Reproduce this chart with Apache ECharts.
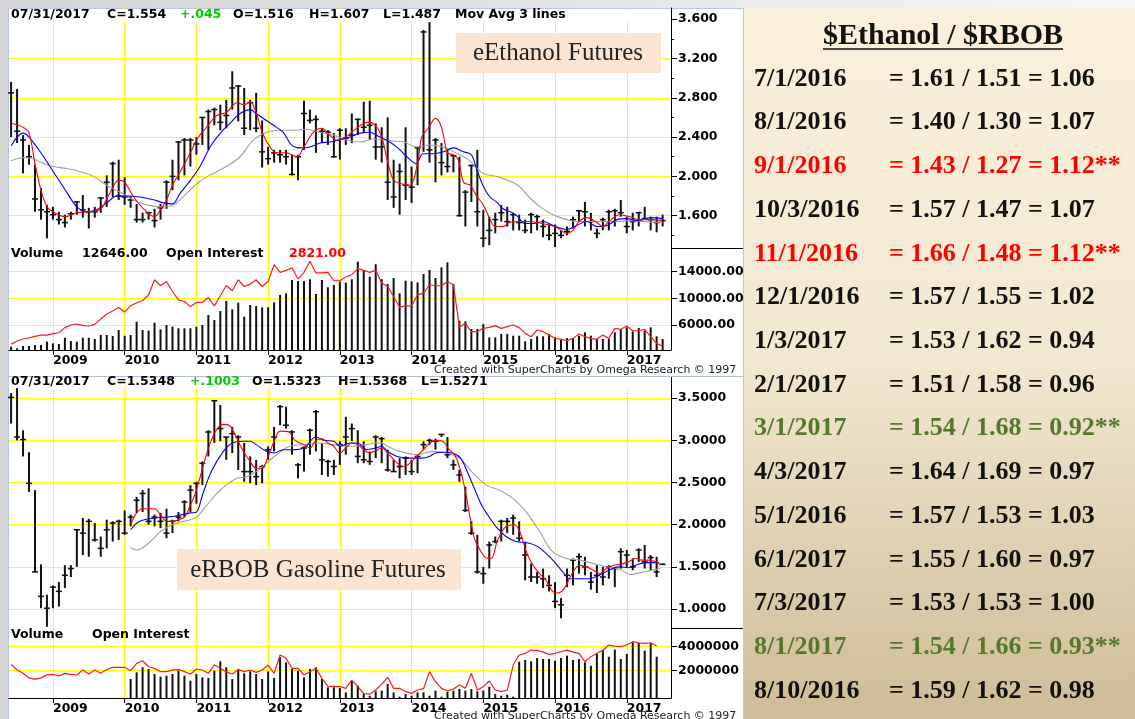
<!DOCTYPE html>
<html>
<head>
<meta charset="utf-8">
<title>eEthanol / eRBOB</title>
<script src="https://cdn.jsdelivr.net/npm/echarts@6/dist/echarts.min.js"></script>
<style>
html,body{margin:0;padding:0;background:#fff;}
#main{width:1135px;height:719px;}
</style>
</head>
<body>
<div id="main"></div>
<script>
//month index: 0 = Jun 2008 ... 109 = Jul 2017
var yearTicks = [7, 19, 31, 43, 55, 67, 79, 91, 103];
var yearLabels = ['2009', '2010', '2011', '2012', '2013', '2014', '2015', '2016', '2017'];

var ethTicks = [1.6, 2.0, 2.4, 2.8, 3.2, 3.6];
var ethMinorTicks = [1.4, 1.8, 2.2, 2.6, 3.0, 3.4];
var ethOiTicks = [6000, 10000, 14000];
var rbTicks = [1.0, 1.5, 2.0, 2.5, 3.0, 3.5];
var rbOiTicks = [2000000, 4000000];

//eEthanol monthly bars
var ethHigh = [
2.96,2.89,2.42,2.32,2.12,1.88,1.71,1.69,1.64,1.61,
1.64,1.75,1.81,1.68,1.69,1.79,2.01,2.15,2.17,1.99,
1.80,1.72,1.63,1.64,1.67,1.72,1.96,2.17,2.36,2.39,
2.39,2.40,2.60,2.68,2.70,2.73,2.78,3.07,2.93,2.90,
2.78,2.85,2.57,2.30,2.27,2.27,2.27,2.22,2.22,2.77,
2.68,2.62,2.49,2.47,2.44,2.49,2.49,2.64,2.59,2.76,
2.77,2.54,2.50,2.60,2.17,2.13,2.50,2.10,2.30,3.49,
3.57,2.39,2.34,2.27,2.22,2.20,1.86,2.12,2.27,1.66,
1.59,1.63,1.71,1.69,1.63,1.61,1.56,1.63,1.61,1.56,
1.51,1.51,1.45,1.49,1.59,1.66,1.74,1.63,1.47,1.58,
1.66,1.67,1.76,1.59,1.63,1.64,1.69,1.59,1.59,1.61];
var ethLow = [
2.40,2.34,2.03,2.12,1.64,1.56,1.37,1.56,1.51,1.48,
1.56,1.61,1.58,1.47,1.58,1.63,1.69,1.79,1.76,1.71,
1.68,1.53,1.53,1.56,1.48,1.56,1.67,1.86,1.96,2.01,
2.10,2.22,2.32,2.27,2.52,2.47,2.49,2.68,2.56,2.42,
2.47,2.45,2.09,2.12,2.14,2.14,2.12,2.01,1.96,2.27,
2.54,2.24,2.34,2.32,2.19,2.17,2.32,2.34,2.42,2.44,
2.37,2.17,2.14,1.76,1.68,1.61,1.76,1.73,1.91,2.25,
2.14,1.94,2.01,2.04,2.04,1.59,1.49,1.74,1.49,1.28,
1.30,1.42,1.54,1.49,1.45,1.45,1.42,1.42,1.45,1.38,
1.35,1.28,1.37,1.40,1.47,1.54,1.49,1.45,1.37,1.45,
1.45,1.49,1.59,1.42,1.45,1.49,1.56,1.45,1.43,1.49];
var ethClose = [
2.85,2.46,2.37,2.20,1.77,1.66,1.64,1.61,1.56,1.53,
1.62,1.74,1.66,1.64,1.64,1.78,1.94,2.13,1.80,1.79,
1.76,1.56,1.56,1.63,1.55,1.68,1.94,2.00,2.35,2.37,
2.37,2.33,2.60,2.66,2.68,2.55,2.62,2.90,2.92,2.49,
2.75,2.49,2.25,2.18,2.24,2.22,2.20,2.02,2.20,2.64,
2.57,2.58,2.46,2.45,2.20,2.47,2.39,2.42,2.58,2.50,
2.52,2.30,2.30,1.94,1.79,2.05,1.91,1.89,2.29,3.47,
2.27,2.37,2.14,2.10,2.21,1.60,1.84,2.11,1.64,1.37,
1.45,1.56,1.63,1.54,1.61,1.53,1.45,1.61,1.59,1.49,
1.40,1.42,1.40,1.44,1.56,1.65,1.64,1.54,1.42,1.56,
1.64,1.65,1.63,1.49,1.54,1.63,1.57,1.56,1.53,1.55];

//eEthanol moving averages [month, value]
var ethMaFast = [[0,2.54],[2,2.50],[3,2.44],[4,2.13],[5,1.86],[6,1.69],[7,1.64],[9,1.59],[11,1.63],[13,1.64],[15,1.67],[16.5,1.83],[18,1.96],[19,1.94],[20.5,1.79],[22,1.68],[24,1.59],[25,1.66],[26,1.76],[27,1.91],[28.5,2.07],[30,2.24],[31,2.37],[32.7,2.50],[34.4,2.62],[36,2.65],[37.8,2.75],[39,2.73],[40,2.76],[41,2.65],[42,2.45],[43.3,2.30],[44.4,2.24],[46,2.24],[47.8,2.20],[49,2.30],[50.6,2.45],[52,2.49],[53.3,2.42],[54.5,2.37],[56,2.40],[57,2.45],[59,2.54],[60,2.55],[61.7,2.45],[63,2.15],[64,1.96],[65.6,1.92],[66.7,1.91],[68,2.13],[68.7,2.40],[69.8,2.49],[71,2.59],[72,2.50],[73,2.24],[74,2.22],[74.8,2.17],[75.7,1.94],[76.8,1.91],[78,1.79],[79,1.71],[80,1.58],[81,1.49],[82.3,1.49],[83.4,1.53],[85,1.54],[86.8,1.54],[88,1.53],[89.6,1.51],[91.3,1.48],[93,1.42],[94,1.45],[95,1.54],[96.3,1.58],[98,1.53],[99,1.49],[100,1.54],[101.8,1.61],[103.5,1.59],[105,1.56],[106.9,1.56],[109,1.55]];
var ethMaMid = [[0,2.31],[2,2.44],[3,2.40],[5,2.24],[6.5,2.10],[8,1.96],[9.3,1.84],[11,1.69],[12.7,1.64],[14.3,1.66],[16,1.73],[17.7,1.80],[19.3,1.80],[21.6,1.79],[24,1.76],[25.5,1.73],[27,1.72],[28.3,1.83],[30,1.96],[31.6,2.10],[33.3,2.30],[35,2.44],[36.6,2.54],[38.3,2.64],[40,2.68],[41,2.64],[42.2,2.59],[43.9,2.52],[45.5,2.45],[46.9,2.32],[48.3,2.29],[50,2.30],[51.7,2.34],[53.3,2.35],[55,2.37],[56.7,2.40],[58.4,2.44],[60,2.45],[61.7,2.40],[62.8,2.37],[64.5,2.30],[66.2,2.20],[67.8,2.13],[68.9,2.23],[70.6,2.23],[72.3,2.25],[74,2.29],[75.7,2.25],[77,2.22],[77.9,2.07],[79,1.90],[80.1,1.79],[81.2,1.74],[82.3,1.67],[83.5,1.64],[84.6,1.60],[86,1.52],[87.4,1.52],[89,1.54],[90.7,1.50],[93,1.46],[94.6,1.50],[96.3,1.54],[98,1.49],[99.7,1.50],[101.4,1.56],[103,1.57],[104.8,1.55],[107,1.58],[109,1.57]];
var ethMaSlow = [[0,2.16],[2,2.19],[3.7,2.18],[5.4,2.13],[7,2.10],[9.3,2.08],[11.5,2.05],[13.8,2.00],[16,1.91],[18.2,1.84],[20.5,1.76],[22.7,1.71],[24.9,1.69],[27.2,1.71],[29.4,1.83],[31.6,1.95],[33.8,2.03],[36,2.10],[38.3,2.20],[40.5,2.37],[42.8,2.45],[45,2.47],[47.2,2.47],[49.5,2.48],[51.7,2.45],[54,2.42],[56.1,2.37],[58.4,2.35],[60.6,2.38],[64,2.36],[65.7,2.35],[67.8,2.30],[70,2.32],[72.3,2.30],[74.4,2.24],[76.5,2.17],[79,2.03],[81.2,2.00],[83.5,1.95],[85,1.90],[86.8,1.78],[88.5,1.69],[90.7,1.61],[93,1.56],[94.6,1.54],[96.9,1.54],[99.1,1.54],[101.4,1.54],[103.6,1.55],[105.8,1.54],[109,1.53]];

var ethVolume = [
3800,1900,4600,4600,5700,5700,9600,7600,6900,14100,
10300,9600,14100,14100,12600,17200,17200,16100,22900,16400,
17200,32500,22900,22200,31400,23700,28700,26800,24900,24900,
24900,26800,28700,40100,34400,44700,56200,46600,54300,38200,
51600,50500,48900,48900,54700,63100,65000,80300,79100,79100,
81100,64200,80300,71900,74600,78400,77200,81100,101300,91800,
84100,98300,81400,75700,82600,65000,79500,78800,77600,87200,
91800,82600,94800,100600,75700,33600,32900,24100,24100,29800,
14500,14500,18400,18400,16400,16400,9900,12600,15700,15700,
18400,14500,11500,13800,13800,16400,20300,16400,12600,12600,
12600,20300,24100,26000,21400,25200,22200,26000,15700,12646];
var ethOpenInt = [
3130,3600,3900,4080,4300,4490,4490,4700,4840,5600,
6000,6150,5950,5850,6100,6900,7660,8100,8620,7920,
8900,9300,9670,10500,12790,11890,12530,11030,9770,9520,
8760,9370,9420,10120,8870,10380,11930,11130,12790,11780,
12140,12790,11780,12530,15050,13900,14200,14560,12900,13900,
15560,13810,13810,13900,12640,12640,13200,13550,14450,14200,
13900,14200,12290,11780,10270,8670,8870,8870,10530,10780,
12040,11890,11890,12530,12040,5650,6250,5000,5000,5500,
5650,5900,5500,5750,6000,5600,4740,4240,5250,5000,
4490,3990,3890,3630,3990,4640,4240,3990,3890,4490,
3990,5500,5350,5850,5140,5140,5350,4240,3240,2821];

//eRBOB monthly bars
var rbHigh = [
3.56,3.62,3.12,2.86,2.41,1.53,1.17,1.28,1.32,1.52,
1.52,1.95,2.08,2.07,2.02,1.86,2.06,2.04,2.06,2.17,
2.12,2.33,2.41,2.43,2.12,2.14,2.19,2.06,2.15,2.29,
2.47,2.51,2.75,3.12,3.48,3.42,3.04,3.16,3.06,2.97,
2.81,2.77,2.71,2.93,3.16,3.42,3.40,3.12,2.73,2.93,
3.14,3.36,2.97,2.77,2.77,2.99,3.28,3.20,3.12,2.99,
2.87,3.06,3.04,2.89,2.77,2.79,2.81,2.77,2.83,2.99,
3.02,3.02,3.08,3.04,2.77,2.65,2.45,2.04,1.88,1.50,
1.80,1.86,2.06,2.08,2.12,2.04,1.80,1.54,1.44,1.48,
1.40,1.32,1.13,1.48,1.60,1.66,1.62,1.44,1.52,1.50,
1.52,1.50,1.72,1.70,1.60,1.72,1.76,1.64,1.62,1.54];
var rbLow = [
3.20,3.00,2.81,2.39,1.44,1.01,0.79,1.01,1.03,1.25,
1.38,1.50,1.64,1.62,1.80,1.62,1.72,1.80,1.82,1.88,
1.98,2.14,2.15,2.00,1.98,1.96,1.84,1.90,2.04,2.09,
2.15,2.25,2.47,2.81,2.97,2.99,2.77,2.85,2.65,2.51,
2.49,2.47,2.49,2.77,2.87,3.18,3.14,2.83,2.55,2.63,
2.83,2.87,2.59,2.57,2.59,2.71,2.83,2.99,2.73,2.73,
2.71,2.79,2.73,2.63,2.63,2.55,2.59,2.59,2.61,2.89,
2.95,2.89,3.04,2.79,2.65,2.51,2.15,1.88,1.42,1.30,
1.48,1.78,1.80,1.90,1.88,1.80,1.34,1.32,1.30,1.25,
1.21,1.01,0.89,1.26,1.28,1.42,1.40,1.23,1.19,1.28,
1.36,1.26,1.48,1.50,1.46,1.56,1.48,1.46,1.38,1.53];
var rbClose = [
3.51,3.04,3.01,2.49,1.44,1.15,1.01,1.26,1.21,1.40,
1.48,1.94,1.90,2.04,1.82,1.72,1.94,2.02,2.04,1.90,
2.09,2.29,2.37,2.04,2.09,2.04,1.90,2.04,2.09,2.27,
2.41,2.49,2.73,3.10,3.47,3.14,3.04,3.08,3.04,2.63,
2.63,2.57,2.69,2.89,3.04,3.40,3.18,3.10,2.71,2.91,
3.12,3.34,2.77,2.75,2.69,2.95,3.04,3.14,2.81,2.77,
2.75,3.04,3.02,2.65,2.63,2.69,2.79,2.63,2.81,2.95,
3.00,2.99,3.07,2.83,2.71,2.59,2.17,1.90,1.44,1.42,
1.76,1.80,2.04,2.04,2.08,1.84,1.64,1.38,1.38,1.36,
1.28,1.09,1.05,1.40,1.58,1.62,1.50,1.32,1.40,1.38,
1.50,1.48,1.68,1.64,1.50,1.70,1.56,1.61,1.44,1.53];

//eRBOB moving averages [month, value]
var rbMaFast = [[20,2.00],[21,2.14],[22,2.19],[24,2.19],[25,2.12],[26,2.04],[27,2.04],[28,2.06],[29,2.09],[30,2.23],[31,2.41],[32.5,2.79],[33.5,3.00],[34.5,3.14],[35.5,3.19],[36.5,3.18],[37.5,3.06],[38.7,2.89],[39.8,2.77],[41,2.67],[42,2.67],[43,2.81],[44,2.99],[45,3.11],[46.5,3.10],[47.5,3.00],[49,2.95],[50,2.91],[51,3.00],[52,3.02],[53,2.97],[54,2.93],[55,2.85],[56,2.91],[57,2.97],[58,2.95],[59,2.89],[60,2.85],[61,2.88],[62,2.91],[63,2.85],[64.6,2.73],[65.7,2.69],[67.3,2.77],[68.7,2.87],[69.8,2.95],[71,3.00],[72.2,2.99],[73.3,2.89],[74.2,2.83],[75,2.69],[75.9,2.43],[76.7,2.12],[77.5,1.84],[78.3,1.72],[79.4,1.61],[80.3,1.60],[81.4,1.82],[82.8,1.98],[84.2,2.00],[85.3,1.88],[86.2,1.68],[87.3,1.52],[88.4,1.42],[89.5,1.34],[90.6,1.21],[91.5,1.19],[92.6,1.25],[93.7,1.40],[95.1,1.52],[96.3,1.50],[97.4,1.46],[98.5,1.42],[99.6,1.48],[100.8,1.52],[101.9,1.53],[103.3,1.56],[104.4,1.60],[105.5,1.58],[106.7,1.58],[107.8,1.56],[108.6,1.53]];
var rbMaMid = [[20,1.94],[21.5,2.04],[24,2.08],[26,2.09],[28,2.11],[30,2.14],[31,2.15],[32,2.35],[33.5,2.63],[35.5,2.87],[37,2.97],[38.8,2.99],[40,2.99],[41,2.95],[42.7,2.87],[44,2.85],[45.5,2.89],[47,2.89],[49,2.91],[51,3.04],[52.4,3.00],[54,2.99],[55,2.93],[56.7,2.97],[58,2.97],[59.5,2.89],[61,2.91],[62,2.93],[63,2.87],[64.6,2.81],[66.8,2.79],[68.7,2.79],[70,2.81],[71,2.85],[72.2,2.86],[73.8,2.85],[75.2,2.79],[76.3,2.63],[77.5,2.43],[78.6,2.25],[79.7,2.12],[81.1,1.98],[82.8,1.86],[84.5,1.80],[86.7,1.78],[88.1,1.74],[89.5,1.66],[90.9,1.56],[92.3,1.44],[93.4,1.36],[95.1,1.36],[96.7,1.36],[98.4,1.40],[100,1.46],[101.7,1.50],[103.4,1.49],[104.5,1.52],[106.2,1.55],[108.4,1.55]];
var rbMaSlow = [[20,1.73],[21,1.70],[23,1.78],[25,1.92],[27,2.00],[29,2.04],[31,2.09],[32.7,2.23],[34.4,2.37],[36,2.47],[37.8,2.55],[39.4,2.57],[41,2.63],[42.7,2.73],[44.4,2.83],[46.6,2.93],[49,2.95],[51,2.97],[54,2.95],[56.7,2.93],[59.5,2.95],[61,2.97],[62,2.97],[63,2.93],[65,2.87],[68,2.83],[70.5,2.87],[72.8,2.85],[75,2.79],[77.3,2.61],[79.5,2.47],[81.7,2.41],[84,2.31],[86.2,2.15],[88.4,1.92],[90.6,1.68],[92.9,1.60],[95.1,1.58],[97.4,1.54],[99.6,1.50],[101.9,1.47],[103.5,1.41],[105.8,1.44],[108.6,1.48]];

var rbVolume = [
null,null,null,null,null,null,null,null,null,null,
null,null,null,null,null,null,null,null,null,null,
1580000,2140000,2560000,2420000,2000000,1780000,1860000,2000000,2280000,1860000,
1440000,2000000,1720000,1670000,2280000,3060000,2560000,1580000,2420000,2060000,
2220000,2000000,1580000,2220000,1670000,3390000,2970000,2420000,2280000,1720000,
2420000,2560000,1580000,890000,890000,830000,470000,1440000,1030000,330000,
190000,560000,610000,1170000,470000,110000,330000,190000,470000,470000,
190000,610000,110000,530000,610000,750000,610000,750000,560000,610000,
940000,330000,190000,280000,110000,3030000,3170000,3060000,3330000,3250000,
3250000,3110000,3330000,3530000,3170000,3250000,2970000,2690000,3670000,4000000,
3440000,4030000,3250000,3670000,4640000,4580000,3940000,4560000,3440000,null];
var rbOpenInt = [
2530000,2060000,1780000,1400000,1300000,1400000,1650000,1700000,1560000,1780000,
1700000,1640000,2060000,1720000,2060000,1780000,2100000,2280000,2280000,2280000,
2000000,2610000,2830000,2330000,2200000,1920000,1920000,2050000,2110000,1920000,
1700000,2140000,2060000,1780000,2470000,2200000,1900000,1720000,2110000,1920000,
2060000,1860000,2060000,2470000,1780000,3310000,3030000,2200000,2200000,1640000,
1920000,2200000,1360000,720000,700000,670000,530000,1220000,670000,100000,
50000,390000,860000,1450000,530000,530000,250000,110000,390000,500000,
1920000,1080000,530000,330000,470000,810000,530000,1780000,390000,670000,
1140000,390000,250000,390000,2470000,3310000,3450000,3720000,3700000,3550000,
3360000,3450000,3600000,3720000,3550000,3450000,2750000,3170000,3450000,3700000,
4140000,4050000,4000000,4140000,4420000,4330000,4280000,4330000,4060000,null];

//$Ethanol / $RBOB table
var tableDates = ['7/1/2016','8/1/2016','9/1/2016','10/3/2016','11/1/2016','12/1/2016','1/3/2017','2/1/2017','3/1/2017','4/3/2017','5/1/2016','6/1/2017','7/3/2017','8/1/2017','8/10/2016'];
var tableEth = ['1.61','1.40','1.43','1.57','1.66','1.57','1.53','1.51','1.54','1.64','1.57','1.55','1.53','1.54','1.59'];
var tableRbob = ['1.51','1.30','1.27','1.47','1.48','1.55','1.62','1.58','1.68','1.69','1.53','1.60','1.53','1.66','1.62'];
var tableRatio = ['1.06','1.07','1.12','1.07','1.12','1.02','0.94','0.96','0.92','0.97','1.03','0.97','1.00','0.93','0.98'];
var tableFlag = ['','','hi','','hi','','','','lo','','','','','lo',''];

var X_MIN = -0.35, X_MAX = 110.4;
var flagColor = {hi: '#ff0000', lo: '#55792a', '': '#111111'};
var axisFont = {fontFamily: 'DejaVu Sans', fontWeight: 'bold', fontSize: 12.5, color: '#000'};
var myChart = echarts.init(document.getElementById('main'));

function yearName(v)
{
	return yearLabels[yearTicks.indexOf(v)];
}

function hlcData(h, l, c)
{
	var out = [];
	for (var i = 0; i < h.length; i++) {
		out.push([i, h[i], l[i], c[i]]);
	}
	return out;
}

function indexed(arr)
{
	return arr.map(function (v, i) { return [i, v]; });
}

//one monthly bar: high-low stick with close ticks
function hlcItem(params, api)
{
	var x = api.value(0);
	var hi = api.coord([x, api.value(1)]);
	var lo = api.coord([x, api.value(2)]);
	var cl = api.coord([x, api.value(3)]);
	return {
		type: 'group',
		children: [
			{type: 'line', shape: {x1: hi[0], y1: hi[1], x2: lo[0], y2: lo[1]}, style: {stroke: '#111', lineWidth: 2}},
			{type: 'line', shape: {x1: cl[0] - 3, y1: cl[1], x2: cl[0] + 3, y2: cl[1]}, style: {stroke: '#111', lineWidth: 1.5}}
		]
	};
}

function xAxisFor(grid, withLabels, withSplit)
{
	return {
		gridIndex: grid, type: 'value', min: X_MIN, max: X_MAX,
		axisLine: {show: withLabels, onZero: false, lineStyle: {color: '#000', width: 1}},
		axisTick: {show: withLabels, length: 5, customValues: yearTicks, lineStyle: {color: '#000'}},
		axisLabel: Object.assign({show: withLabels, customValues: yearTicks, align: 'left', margin: 4, formatter: yearName}, axisFont),
		splitLine: {show: withSplit, lineStyle: {color: '#ffff00', width: 1}}
	};
}

function labelAxis(grid, min, max, ticks, fmt)
{
	return {
		gridIndex: grid, type: 'value', position: 'right', min: min, max: max,
		axisLine: {show: true, onZero: false, lineStyle: {color: '#000', width: 1}},
		axisTick: {show: true, length: 6, customValues: ticks, lineStyle: {color: '#000'}},
		axisLabel: Object.assign({customValues: ticks, margin: 7, formatter: fmt}, axisFont),
		splitLine: {show: true, lineStyle: {color: '#ffff00', width: 1}}
	};
}

//ticks only, on an overlaid grid so it sits on the right side too
function minorAxis(grid, min, max, ticks)
{
	return {
		gridIndex: grid, type: 'value', position: 'right', min: min, max: max,
		axisLine: {show: false, onZero: false},
		axisTick: {show: true, length: 3, customValues: ticks, lineStyle: {color: '#000'}},
		axisLabel: {show: false, customValues: ticks},
		splitLine: {show: false}
	};
}

function hiddenAxis(grid, max)
{
	return {gridIndex: grid, type: 'value', min: 0, max: max, show: false, axisLine: {onZero: false}, splitLine: {show: false}};
}

function maLine(x, y, data, color)
{
	return {type: 'line', xAxisIndex: x, yAxisIndex: y, data: data, smooth: 0.35, symbol: 'none',
		lineStyle: {color: color, width: 1.1}, z: 4, silent: true};
}

function txt(x, y, s, color, size, weight, family, align, z)
{
	return {type: 'text', x: x, y: y, z: z || 20, silent: true,
		style: {text: s, fill: color || '#000', fontSize: size || 12.5, fontWeight: weight || 'bold',
			fontFamily: family || 'DejaVu Sans', align: align || 'left', verticalAlign: 'middle'}};
}

function textWidth(s, font)
{
	var ctx = document.createElement('canvas').getContext('2d');
	ctx.font = font;
	return ctx.measureText(s).width;
}

//graphics: backgrounds, headers, boxes, table
var graphics = [
	{type: 'rect', z: -10, silent: true, shape: {x: 0, y: 0, width: 1135, height: 719},
		style: {fill: new echarts.graphic.LinearGradient(0, 0, 1, 0, [{offset: 0, color: '#d4d4d4'}, {offset: 1, color: '#f6f6f6'}])}},
	{type: 'rect', z: -9, silent: true, shape: {x: 8.5, y: 8.5, width: 735, height: 711}, style: {fill: '#fff', stroke: '#b7c7e6', lineWidth: 1}},
	{type: 'rect', z: 1, silent: true, shape: {x: 9, y: 9, width: 662, height: 12.5}, style: {fill: '#fff'}},
	{type: 'rect', z: 1, silent: true, shape: {x: 9, y: 377, width: 662, height: 11}, style: {fill: '#fff'}},
	{type: 'line', z: 1, silent: true, shape: {x1: 8, y1: 376.5, x2: 743, y2: 376.5}, style: {stroke: '#aebfe2', lineWidth: 1}},
	{type: 'line', z: 1, silent: true, shape: {x1: 671, y1: 248.5, x2: 743, y2: 248.5}, style: {stroke: '#000', lineWidth: 1}},
	{type: 'line', z: 1, silent: true, shape: {x1: 671, y1: 628.5, x2: 743, y2: 628.5}, style: {stroke: '#000', lineWidth: 1}},

	txt(11, 15, '07/31/2017'), txt(107, 15, 'C=1.554'), txt(180, 15, '+.045', '#00cc00'),
	txt(233, 15, 'O=1.516'), txt(309, 15, 'H=1.607'), txt(383, 15, 'L=1.487'), txt(455, 15, 'Mov Avg 3 lines'),
	txt(11, 254, 'Volume'), txt(82, 254, '12646.00'), txt(166, 254, 'Open Interest'), txt(289, 254, '2821.00', '#ff0000'),
	txt(434, 370, 'Created with SuperCharts by Omega Research \u00a9 1997', '#222', 11, 'normal'),

	txt(11, 382, '07/31/2017'), txt(107, 382, 'C=1.5348'), txt(190, 382, '+.1003', '#00cc00'),
	txt(252, 382, 'O=1.5323'), txt(338, 382, 'H=1.5368'), txt(421, 382, 'L=1.5271'),
	txt(11, 635, 'Volume'), txt(92, 635, 'Open Interest'),
	txt(434, 716, 'Created with SuperCharts by Omega Research \u00a9 1997', '#222', 11, 'normal'),

	{type: 'rect', z: 10, silent: true, shape: {x: 456, y: 33, width: 205, height: 40}, style: {fill: '#fbe4d2'}},
	txt(558, 53, 'eEthanol Futures', '#222', 25, 'normal', 'Liberation Serif', 'center'),
	{type: 'rect', z: 10, silent: true, shape: {x: 177, y: 549, width: 284, height: 41}, style: {fill: '#fbe4d2'}},
	txt(318, 570, 'eRBOB Gasoline Futures', '#222', 25, 'normal', 'Liberation Serif', 'center'),

	{type: 'rect', z: 30, silent: true, shape: {x: 743, y: 8, width: 392, height: 711},
		style: {fill: new echarts.graphic.LinearGradient(0, 0, 0, 1, [{offset: 0, color: '#fbf0dc'}, {offset: 0.5, color: '#f2e7cf'}, {offset: 1, color: '#cfbb96'}])}},
	{type: 'line', z: 31, silent: true, shape: {x1: 743.5, y1: 8, x2: 743.5, y2: 719}, style: {stroke: '#b7c7e6', lineWidth: 1}}
];

var titleText = '$Ethanol / $RBOB';
var titleW = textWidth(titleText, 'bold 30px "Liberation Serif"');
graphics.push(txt(943, 36, titleText, '#111', 30, 'bold', 'Liberation Serif', 'center', 32));
graphics.push({type: 'line', z: 32, silent: true, shape: {x1: 943 - titleW / 2, y1: 49, x2: 943 + titleW / 2, y2: 49}, style: {stroke: '#111', lineWidth: 1.5}});

for (var i = 0; i < tableDates.length; i++) {
	var rowY = 79 + i * 43.72;
	var col = flagColor[tableFlag[i]];
	var star = tableFlag[i] ? '**' : '';
	graphics.push(txt(754, rowY, tableDates[i], col, 26, 'bold', 'Liberation Serif', 'left', 32));
	graphics.push(txt(889, rowY, '= ' + tableEth[i] + ' / ' + tableRbob[i] + ' = ' + tableRatio[i] + star, col, 26, 'bold', 'Liberation Serif', 'left', 32));
}

var option = {
	animation: false,
	graphic: graphics,
	grid: [
		{left: 9, top: 8, width: 662, height: 240},
		{left: 9, top: 248, width: 662, height: 102},
		{left: 9, top: 377, width: 662, height: 251},
		{left: 9, top: 628, width: 662, height: 70},
		{left: 9, top: 8, width: 662, height: 240}
	],
	xAxis: [xAxisFor(0, false, true), xAxisFor(1, true, true), xAxisFor(2, false, true), xAxisFor(3, true, true), xAxisFor(4, false, false)],
	yAxis: [
		labelAxis(0, 1.271, 3.714, ethTicks, function (v) { return v.toFixed(3); }),
		labelAxis(1, 2247, 17557, ethOiTicks, function (v) { return v.toFixed(2); }),
		hiddenAxis(1, 117000),
		labelAxis(2, 0.775, 3.752, rbTicks, function (v) { return v.toFixed(4); }),
		labelAxis(3, -275000, 5558000, rbOiTicks, function (v) { return String(v); }),
		hiddenAxis(3, 5833000),
		minorAxis(4, 1.271, 3.714, ethMinorTicks)
	],
	series: [
		{type: 'custom', xAxisIndex: 0, yAxisIndex: 0, renderItem: hlcItem, data: hlcData(ethHigh, ethLow, ethClose), silent: true, z: 3},
		maLine(0, 0, ethMaSlow, '#a0a0a0'),
		maLine(0, 0, ethMaMid, '#0000ff'),
		maLine(0, 0, ethMaFast, '#ff0000'),
		{type: 'bar', xAxisIndex: 1, yAxisIndex: 2, data: indexed(ethVolume), barWidth: 2, itemStyle: {color: '#111'}, silent: true},
		{type: 'line', xAxisIndex: 1, yAxisIndex: 1, data: indexed(ethOpenInt), symbol: 'none', lineStyle: {color: '#ff1a1a', width: 1.2}, z: 4, silent: true},

		{type: 'custom', xAxisIndex: 2, yAxisIndex: 3, renderItem: hlcItem, data: hlcData(rbHigh, rbLow, rbClose), silent: true, z: 3},
		maLine(2, 3, rbMaSlow, '#a0a0a0'),
		maLine(2, 3, rbMaMid, '#0000ff'),
		maLine(2, 3, rbMaFast, '#ff0000'),
		{type: 'bar', xAxisIndex: 3, yAxisIndex: 5, data: indexed(rbVolume), barWidth: 2, itemStyle: {color: '#111'}, silent: true},
		{type: 'line', xAxisIndex: 3, yAxisIndex: 4, data: indexed(rbOpenInt), symbol: 'none', lineStyle: {color: '#ff1a1a', width: 1.2}, z: 4, silent: true}
	]
};
myChart.setOption(option);
</script>
</body>
</html>
